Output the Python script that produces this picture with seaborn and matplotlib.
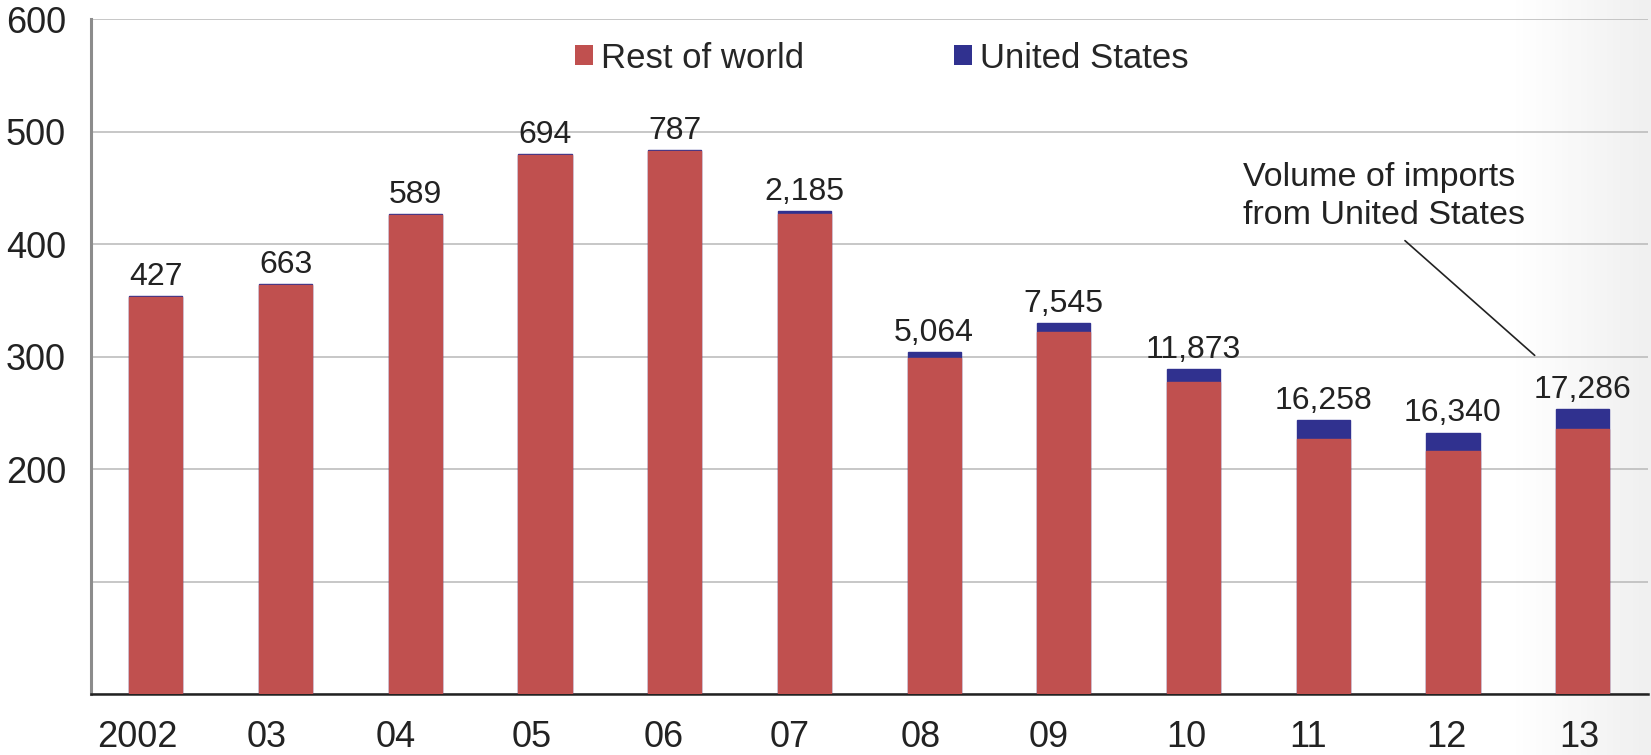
import numpy as np
import pandas as pd
import matplotlib
matplotlib.use("Agg")
import matplotlib.pyplot as plt
import matplotlib.transforms as mtransforms
import seaborn as sns
from matplotlib.patches import Patch
from matplotlib.colors import LinearSegmentedColormap

# data (thousand tonnes, US volume labels in tonnes)
years = ["2002", "03", "04", "05", "06", "07", "08", "09", "10", "11", "12", "13"]
rest_of_world = [353, 364, 426, 479, 483, 427, 299, 322, 277, 227, 216, 236]
us_tonnes = [427, 663, 589, 694, 787, 2185, 5064, 7545, 11873, 16258, 16340, 17286]

RED = "#C0504F"
BLUE = "#30318F"

df = pd.DataFrame({"year": years, "rest": rest_of_world, "us": np.array(us_tonnes) / 1000})
df["total"] = df["rest"] + df["us"]

sns.set_style("white")
plt.rcParams["font.family"] = ["Liberation Sans", "DejaVu Sans"]

fig = plt.figure(figsize=(16.51, 7.55), dpi=100)

# soft grey fade on the right edge
bg = fig.add_axes([0, 0, 1, 1], zorder=0)
cmap = LinearSegmentedColormap.from_list("fade", [(0, "white"), (0.92, "white"), (1.0, "#f0f0f0")])
bg.imshow(np.linspace(0, 1, 512).reshape(1, -1), cmap=cmap, aspect="auto", extent=[0, 1, 0, 1])
bg.set_axis_off()

ax = fig.add_axes([0.0551, 0.0808, 0.9428, 0.894], zorder=1)
ax.set_facecolor("none")

# stacked: full total in blue, rest of world painted over it in red
sns.barplot(data=df, x="year", y="total", color=BLUE, width=0.41, saturation=1, errorbar=None,
            edgecolor=BLUE, linewidth=1, ax=ax, zorder=3)
sns.barplot(data=df, x="year", y="rest", color=RED, width=0.41, saturation=1, errorbar=None,
            edgecolor=RED, linewidth=1, ax=ax, zorder=3)

ax.bar_label(ax.containers[0], labels=[f"{v:,}" for v in us_tonnes], padding=3, fontsize=23, color="#222222")

ax.set_xlim(-0.5, len(years) - 0.5)
ax.set_ylim(0, 600)
ax.set_xlabel("")
ax.set_ylabel("")

# y axis
ax.set_yticks([0, 100, 200, 300, 400, 500, 600])
ax.set_yticklabels(["", "", "200", "300", "400", "500", "600"])
ax.yaxis.grid(True, color="#bdbdbd", linewidth=1.2, zorder=0)
ax.set_axisbelow(True)
ax.tick_params(axis="y", length=8, width=2, color="#8c8c8c", pad=10, labelsize=26, labelcolor="#222222")

# x axis: ticks between categories, labels centered
ax.set_xticks(np.arange(-0.5, len(years), 1))
ax.set_xticklabels([])
ax.set_xticks(np.arange(len(years)), minor=True)
ax.set_xticklabels(years, minor=True)
ax.tick_params(axis="x", which="major", length=8, width=1.5, color="#222222", direction="out")
ax.tick_params(axis="x", which="minor", length=0, pad=19, labelsize=26, labelcolor="#222222")

# the original's year labels sit a little left of the bars
shifts = [-18, -19, -20, -13, -11, -15, -13, -15, -7, -15, -7, -3]
for lab, dx in zip(ax.get_xticklabels(minor=True), shifts):
    lab.set_transform(lab.get_transform() + mtransforms.ScaledTranslation(dx / 100, 0, fig.dpi_scale_trans))

for s in ["top", "right"]:
    ax.spines[s].set_visible(False)
ax.spines["left"].set_color("#8c8c8c")
ax.spines["left"].set_linewidth(2.2)
ax.spines["bottom"].set_color("#222222")
ax.spines["bottom"].set_linewidth(1.8)

handles = [Patch(facecolor=RED, edgecolor="none", label="Rest of world"),
           Patch(facecolor=BLUE, edgecolor="none", label="United States")]
fig.legend(handles=handles, loc="center", bbox_to_anchor=(0.534, 0.923), ncol=2, frameon=False,
           fontsize=25, handlelength=0.52, handleheight=0.52, handletextpad=0.23, columnspacing=4.3)

ax.text(8.38, 418, "Volume of imports\nfrom United States", fontsize=24.5, color="#222222",
        ha="left", va="baseline", linespacing=1.3)
ax.plot([9.63, 10.63], [403, 301], color="#222222", linewidth=1.2, zorder=4)

fig.savefig("out.png", dpi=100)
